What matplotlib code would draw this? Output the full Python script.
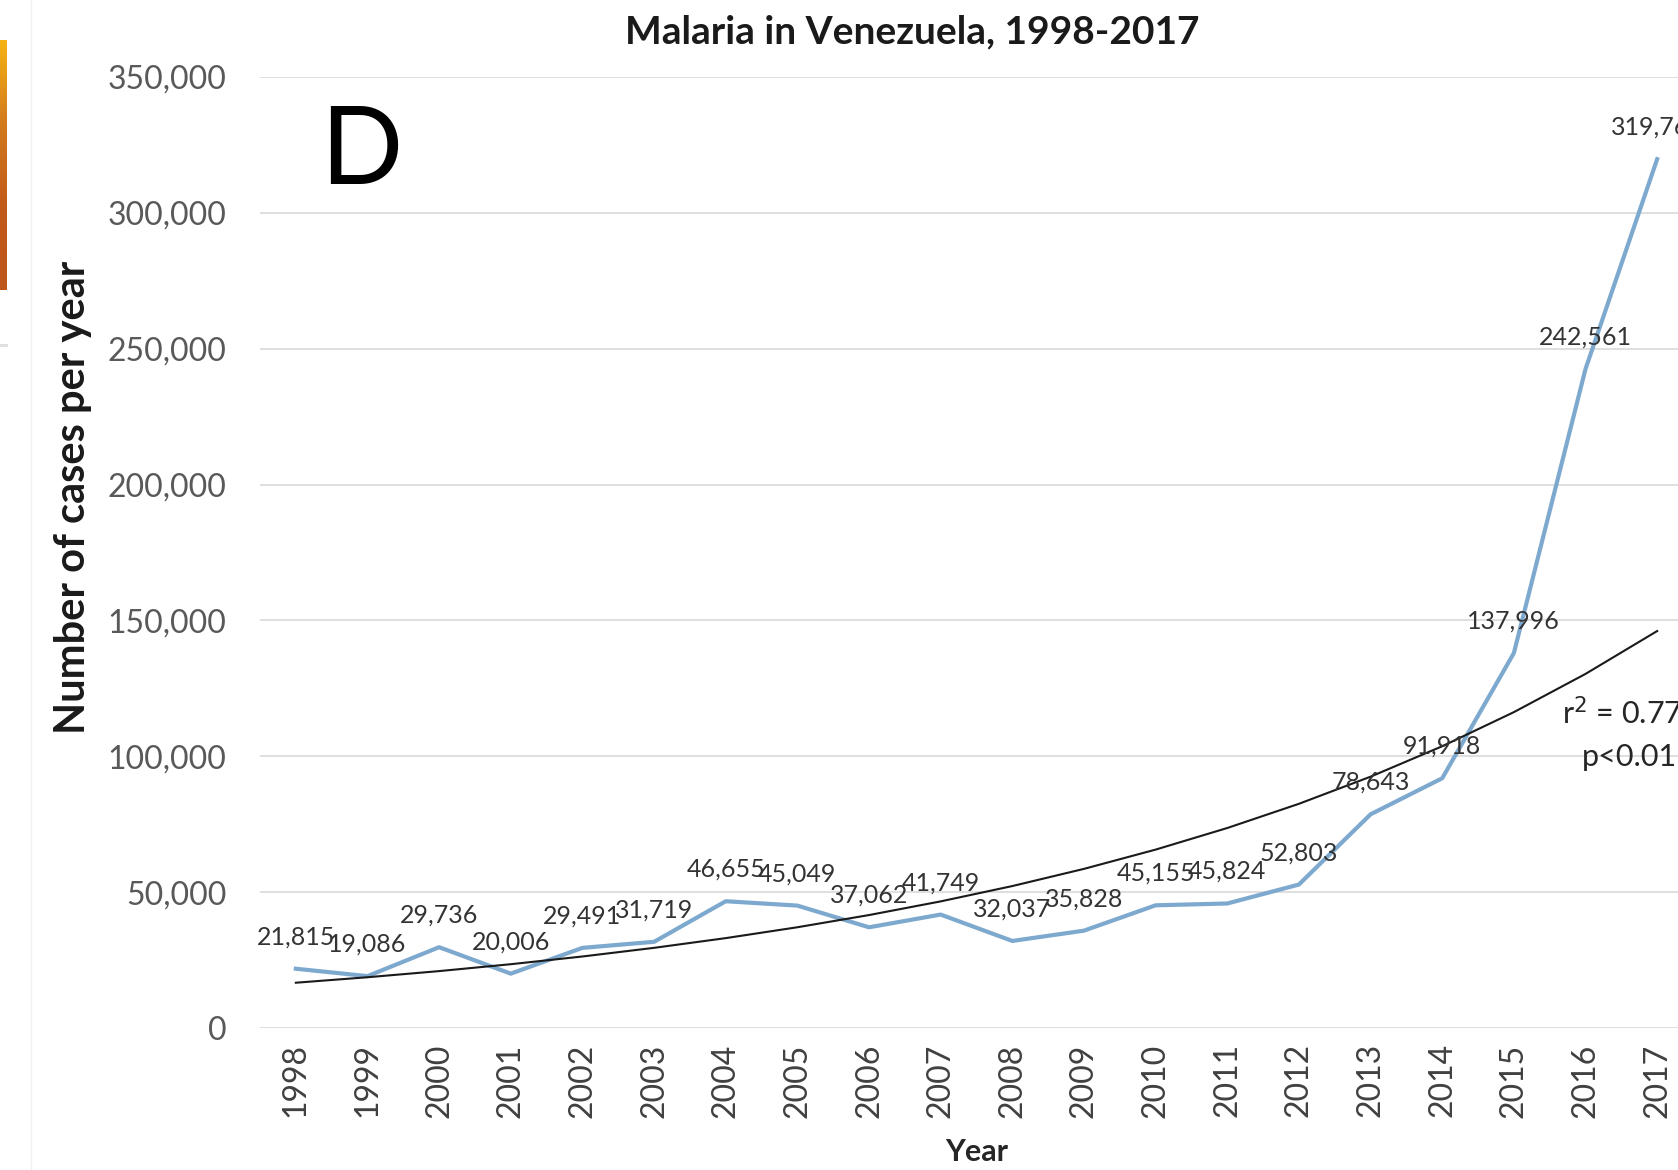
"""Malaria in Venezuela, 1998-2017 (panel D) with exponential trend line."""

import matplotlib.pyplot as plt
import numpy as np
from matplotlib.colors import LinearSegmentedColormap
from matplotlib.patches import Rectangle
from matplotlib.ticker import FuncFormatter

plt.rcParams["font.family"] = ["Lato", "DejaVu Sans"]

years = [1998, 1999, 2000, 2001, 2002, 2003, 2004, 2005, 2006, 2007,
         2008, 2009, 2010, 2011, 2012, 2013, 2014, 2015, 2016, 2017]
cases = [21815, 19086, 29736, 20006, 29491, 31719, 46655, 45049, 37062, 41749,
         32037, 35828, 45155, 45824, 52803, 78643, 91918, 137996, 242561, 319765]
y_ticks = [0, 50000, 100000, 150000, 200000, 250000, 300000, 350000]
r2_text = "r$^2$ = 0.77"
p_text = "p<0.01"

W, H = 1678, 1170
fig = plt.figure(figsize=(W / 100, H / 100), dpi=100)

# axes position in pixels (plot area runs past the right edge, as in the crop)
left, right, top, bottom = 260, 1693, 77, 1028
ax = fig.add_axes([left / W, 1 - bottom / H, (right - left) / W, (bottom - top) / H])

x = np.arange(len(years))
ax.plot(x, cases, color="#7ea9cf", lw=3.0, solid_joinstyle="round", zorder=3)

# exponential trend (least squares on log values, like a spreadsheet trendline)
b, a = np.polyfit(x, np.log(cases), 1)
ax.plot(x, np.exp(a + b * x), color="#1a1a1a", lw=1.5, zorder=4)

for xi, v in zip(x, cases):
    ax.annotate(f"{v:,}", (xi, v), xytext=(0, 23), textcoords="offset points",
                ha="center", va="center", fontsize=18, color="#333333",
                annotation_clip=False, zorder=5)

ax.set_xlim(-0.5, len(years) - 0.5)
ax.set_ylim(0, 350000)
ax.set_yticks(y_ticks)
ax.yaxis.set_major_formatter(FuncFormatter(lambda v, _: f"{int(v):,}"))
ax.set_xticks(x)
ax.set_xticklabels([str(y) for y in years], rotation=90)
ax.tick_params(axis="y", length=0, pad=24, labelsize=23, labelcolor="#595959")
ax.tick_params(axis="x", length=0, pad=11, labelsize=23, labelcolor="#404040")
ax.grid(axis="y", color="#d9d9d9", lw=1.2)
ax.set_axisbelow(True)
for s in ax.spines.values():
    s.set_visible(False)

ax.set_title("Malaria in Venezuela, 1998-2017", fontsize=28, fontweight="bold",
             color="#1a1a1a", x=(912 - left) / (right - left), pad=24)
ax.set_xlabel("Year", fontsize=22, fontweight="bold", color="#262626")
ax.xaxis.set_label_coords((977 - left) / (right - left), -(1152 - bottom) / (bottom - top))
ax.xaxis.label.set_va("center")
fig.text(73 / W, 1 - 497 / H, "Number of cases per year", rotation=90,
         ha="center", va="center", fontsize=30, fontweight="bold", color="#1a1a1a")

fig.text(320 / W, 1 - 153 / H, "D", fontsize=78, ha="left", va="center",
         color="black")

fig.text(1562 / W, 1 - 713 / H, r2_text, fontsize=22, color="#262626",
         ha="left", va="center")
fig.text(1582 / W, 1 - 757 / H, p_text, fontsize=22, color="#262626",
         ha="left", va="center")

# remnants of the neighbouring panel on the left
grad = np.linspace(0, 1, 256).reshape(-1, 1)
strip = fig.add_axes([0, 1 - 290 / H, 7 / W, 250 / H])
strip.imshow(grad, aspect="auto", cmap=LinearSegmentedColormap.from_list(
    "strip", ["#f6b316", "#d27a1c", "#c25a1a", "#bf561a"]))
strip.axis("off")
fig.add_artist(Rectangle((0, 1 - 347 / H), 8 / W, 3 / H, transform=fig.transFigure,
                         color="#e0e0e0", lw=0))
fig.add_artist(plt.Line2D([31 / W, 31 / W], [0, 1], transform=fig.transFigure,
                          color="#f0f0f0", lw=1))

fig.savefig("out.png", dpi=100)
